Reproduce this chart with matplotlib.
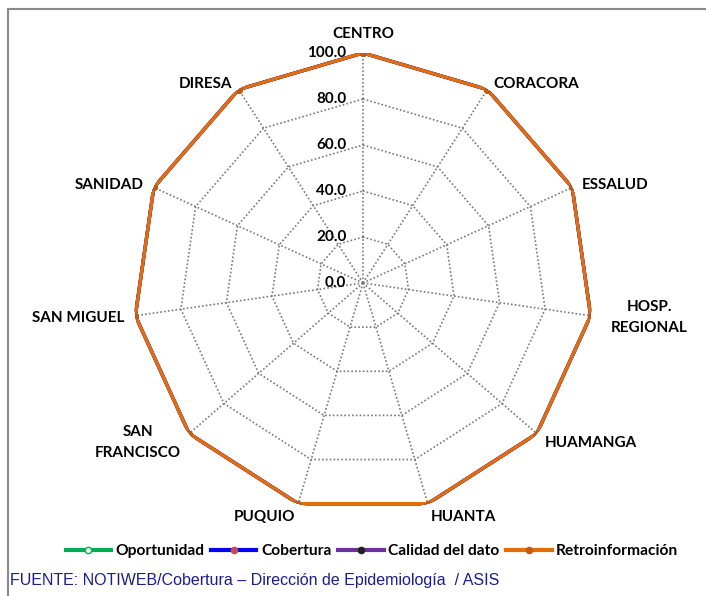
import numpy as np
import matplotlib
matplotlib.use("Agg")
import matplotlib.pyplot as plt
from matplotlib.lines import Line2D
from matplotlib.patches import Rectangle

# Data
categorias = ['CENTRO', 'CORACORA', 'ESSALUD', 'HOSP.\nREGIONAL', 'HUAMANGA',
              'HUANTA', 'PUQUIO', 'SAN\nFRANCISCO', 'SAN MIGUEL', 'SANIDAD', 'DIRESA']
oportunidad = [100, 100, 100, 100, 100, 100, 100, 100, 100, 100, 100]
cobertura = [100, 100, 100, 100, 100, 100, 100, 100, 100, 100, 100]
calidad = [100, 100, 100, 100, 100, 100, 100, 100, 100, 100, 100]
retro = [100, 100, 100, 100, 100, 100, 100, 100, 100, 100, 100]
niveles = [0, 20, 40, 60, 80, 100]
fuente = 'FUENTE: NOTIWEB/Cobertura \u2013 Dirección de Epidemiología  / ASIS'

plt.rcParams['font.family'] = ['Lato', 'DejaVu Sans']

W, H = 706, 596
fig = plt.figure(figsize=(W / 100, H / 100), dpi=100)

# center (363, 283), radius 230 px
cx, cy, R = 363, 283, 230
ax = fig.add_axes([(cx - R) / W, (H - cy - R) / H, 2 * R / W, 2 * R / H], projection='polar')
ax.set_theta_zero_location('N')
ax.set_theta_direction(-1)
ax.set_ylim(0, 100)
ax.grid(False)
ax.set_xticks([])
ax.set_yticks([])
ax.spines['polar'].set_visible(False)
ax.patch.set_alpha(0)

n = len(categorias)
ang = np.arange(n) * 2 * np.pi / n
ang_c = np.append(ang, ang[0])

# polygon grid
for r in niveles[1:]:
    ax.plot(ang_c, [r] * (n + 1), color='#7a7a7a', lw=1.2, ls=(0, (1, 1.3)), zorder=1)
for a in ang:
    ax.plot([a, a], [0, 100], color='#7a7a7a', lw=1.2, ls=(0, (1, 1.3)), zorder=1)

def cerrar(v):
    return list(v) + [v[0]]

ax.plot(ang_c, cerrar(oportunidad), color='#00B050', lw=2.4, marker='o', ms=3.5,
        mfc='white', mec='#00B050', zorder=3)
ax.plot(ang_c, cerrar(cobertura), color='#0000FF', lw=2.4, marker='o', ms=3.5,
        mfc='#C0504D', mec='#C0504D', zorder=4)
ax.plot(ang_c, cerrar(calidad), color='#7030A0', lw=2.4, marker='o', ms=3.5,
        mfc='#222222', mec='#222222', zorder=5)
ax.plot(ang_c, cerrar(retro), color='#E46C0A', lw=2.4, marker='o', ms=4,
        mfc='#C55A11', mec='#C55A11', zorder=6)

# category labels
for a, lab in zip(ang, categorias):
    s, c = np.sin(a), np.cos(a)
    if s > 0.1:
        ha = 'left'
    elif s < -0.1:
        ha = 'right'
    else:
        ha = 'center'
    va = 'bottom' if c > 0.99 else 'center'
    dx = 11 * s
    dy = 7 * c if c > 0 else 14 * c
    if c > 0.99:
        dy = 12
    if lab.startswith('HOSP'):
        dx = 20
    ax.annotate(lab, xy=(a, 100), xytext=(dx * 0.72, dy * 0.72), textcoords='offset points',
                ha=ha, va=va, multialignment='center', fontsize=11, fontweight='bold',
                linespacing=1.6, zorder=7)

# radial value labels
for r in niveles:
    ax.annotate('%.1f' % r, xy=(0, r), xytext=(-12, 0), textcoords='offset points',
                ha='right', va='center', fontsize=11, fontweight='bold', zorder=7)

handles = [
    Line2D([], [], color='#00B050', lw=3, marker='o', ms=4.5, mfc='white', mec='#00B050'),
    Line2D([], [], color='#0000FF', lw=3, marker='o', ms=4.5, mfc='#C0504D', mec='#C0504D'),
    Line2D([], [], color='#7030A0', lw=3, marker='o', ms=4.5, mfc='#222222', mec='#222222'),
    Line2D([], [], color='#E46C0A', lw=3, marker='o', ms=4.5, mfc='#C55A11', mec='#C55A11'),
]
fig.legend(handles, ['Oportunidad', 'Cobertura', 'Calidad del dato', 'Retroinformación'],
           loc='center', bbox_to_anchor=(372 / W, 1 - 551 / H), ncol=4, frameon=False,
           prop={'size': 11.2, 'weight': 'bold'}, handlelength=2.9, handletextpad=0.3,
           columnspacing=0.45)

fig.text(10 / W, 1 - 581 / H, fuente, color='#1C1C8C', fontsize=11.5,
         family='Liberation Sans', ha='left', va='center')

# chart border (only top/left visible)
fig.patches.append(Rectangle((8 / W, -0.1), 1.2, 1.085, transform=fig.transFigure,
                             fill=False, ec='#8a8a8a', lw=1.5))

fig.savefig('out.png', dpi=100)
